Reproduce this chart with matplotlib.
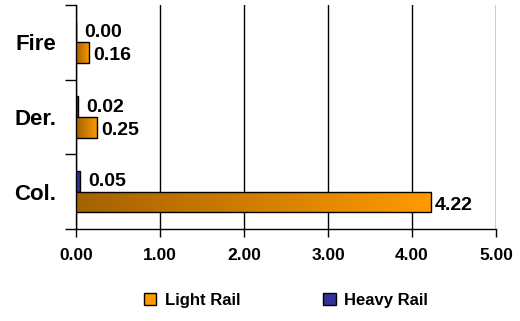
import numpy as np
import matplotlib
matplotlib.use("Agg")
import matplotlib.pyplot as plt
from matplotlib.colors import LinearSegmentedColormap
from matplotlib.patches import Patch

categories = ["Col.", "Der.", "Fire"]
light_rail = [4.22, 0.25, 0.16]
heavy_rail = [0.05, 0.02, 0.00]
x_ticks = [0, 1, 2, 3, 4, 5]
x_labels = ["0.00", "1.00", "2.00", "3.00", "4.00", "5.00"]

plt.rcParams["font.family"] = ["Liberation Sans", "DejaVu Sans"]
plt.rcParams["font.weight"] = "bold"

NAVY = "#333399"
ORANGE_L = "#A46200"
ORANGE_R = "#FF9A00"
grad = LinearSegmentedColormap.from_list("og", [ORANGE_L, ORANGE_R])

fig = plt.figure(figsize=(5.2, 3.21), dpi=100)
ax = fig.add_axes([0.146, 0.287, 0.808, 0.697])

y = np.arange(len(categories))
h = 0.28
hb = ax.barh(y + h / 2, heavy_rail, height=h, color=NAVY, edgecolor="black",
             lw=1.0, zorder=3)
lb = ax.barh(y - h / 2, light_rail, height=h, color=ORANGE_R,
             edgecolor="black", lw=1.0, zorder=3)

# horizontal gradient fill on each light-rail bar
g = np.linspace(0, 1, 256).reshape(1, -1)
for r in lb:
    x0, y0 = r.get_x(), r.get_y()
    im = ax.imshow(g, cmap=grad, aspect="auto", zorder=3.5,
                   extent=(x0, x0 + r.get_width(), y0, y0 + r.get_height()))
    im.set_clip_path(r)
    r.set_facecolor("none")
    r.set_zorder(4)

for r, v in zip(hb, heavy_rail):
    ax.text(r.get_width() + 0.1, r.get_y() + r.get_height() / 2 - 0.01,
            f"{v:.2f}", va="center", ha="left", fontsize=14, fontweight="bold")
for r, v in zip(lb, light_rail):
    ax.text(r.get_width() + 0.05, r.get_y() + r.get_height() / 2 - 0.04,
            f"{v:.2f}", va="center", ha="left", fontsize=14, fontweight="bold")

ax.set_xlim(0, 5)
ax.set_ylim(-0.5, 2.5)
ax.set_xticks(x_ticks)
ax.set_xticklabels(x_labels, fontsize=12.5, fontweight="bold")
ax.set_yticks([-0.5, 0.5, 1.5, 2.5])
ax.set_yticklabels([])
ax.set_yticks(y, minor=True)
ax.set_yticklabels(categories, minor=True, fontsize=16, fontweight="bold")
ax.tick_params(axis="y", which="minor", length=0, pad=14)
ax.tick_params(axis="y", which="major", length=8, width=1, direction="out")
ax.tick_params(axis="x", length=6, width=1, direction="out", pad=8)
ax.grid(axis="x", color="black", lw=1.0, zorder=0)
for s in ("top", "right"):
    ax.spines[s].set_visible(False)
for s in ("left", "bottom"):
    ax.spines[s].set_linewidth(1.0)

handles = [Patch(facecolor=ORANGE_R, edgecolor="black", label="Light Rail"),
           Patch(facecolor=NAVY, edgecolor="black", label="Heavy Rail")]
fig.legend(handles=handles, loc="center", bbox_to_anchor=(0.55, 0.065),
           ncol=2, frameon=False, prop={"size": 12, "weight": "bold"},
           handlelength=0.75, handleheight=0.75, columnspacing=5.0,
           handletextpad=0.5)

fig.savefig("out.png", dpi=100)
